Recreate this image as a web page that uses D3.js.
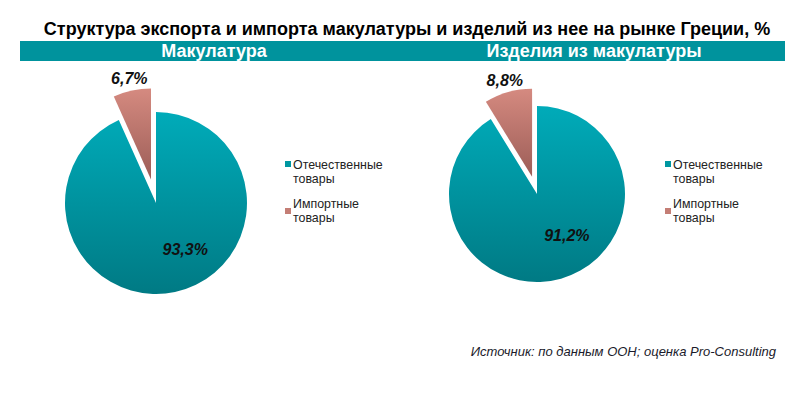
<!DOCTYPE html>
<html>
<head>
<meta charset="utf-8">
<script src="https://cdn.jsdelivr.net/npm/d3@7"></script>
<style>
  body { margin: 0; background: #fff; }
  svg { display: block; font-family: "Liberation Sans", Arial, sans-serif; }
</style>
</head>
<body>
<div id="chart"></div>
<script>
// data
const title = "Структура экспорта и импорта макулатуры и изделий из нее на рынке Греции, %";
const panels = ["Макулатура", "Изделия из макулатуры"];
const categories = ["Отечественные товары", "Импортные товары"];
const shares1 = [93.3, 6.7];
const shares2 = [91.2, 8.8];
const source = "Источник: по данным ООН; оценка Pro-Consulting";

const W = 804, H = 394;
const svg = d3.select("#chart").append("svg").attr("width", W).attr("height", H);

// gradients
const defs = svg.append("defs");
function grad(id, top, bottom){
    const g = defs.append("linearGradient").attr("id", id)
        .attr("x1", 0).attr("y1", 0).attr("x2", 0).attr("y2", 1);
    g.append("stop").attr("offset", "0%").attr("stop-color", top);
    g.append("stop").attr("offset", "100%").attr("stop-color", bottom);
}
grad("gTeal", "#00abb9", "#007a84");
grad("gPink", "#d58a80", "#9c5d57");

const fills = ["url(#gTeal)", "url(#gPink)"];
const legendColors = ["#0097a1", "#c47e75"];

// title + band
svg.append("text").attr("x", 407).attr("y", 35).attr("text-anchor", "middle")
    .attr("font-size", 18).attr("font-weight", "bold").attr("fill", "#000")
    .text(title);

svg.append("rect").attr("x", 20).attr("y", 41).attr("width", 765).attr("height", 20)
    .attr("fill", "#00939d");

const fmt = v => d3.format(".1f")(v).replace(".", ",") + "%";

function drawPie(values, panel, cx, cy, r, explode, bandX, legendX, importLabelR, mainLabelR){
    svg.append("text").attr("x", bandX).attr("y", 57).attr("text-anchor", "middle")
        .attr("font-size", 18).attr("font-weight", "bold").attr("fill", "#fff")
        .text(panel);

    const pie = d3.pie().sort(null).startAngle(0).endAngle(2 * Math.PI);
    const arcs = pie(values);
    const arc = d3.arc().innerRadius(0).outerRadius(r);
    const g = svg.append("g").attr("transform", `translate(${cx},${cy})`);

    arcs.forEach((a, i) => {
        const mid = (a.startAngle + a.endAngle) / 2;
        const off = i === 1 ? explode : 0;
        const dx = Math.sin(mid) * off, dy = -Math.cos(mid) * off;
        g.append("g").attr("transform", `translate(${dx},${dy})`)
            .append("path").attr("d", arc(a)).attr("fill", fills[i]);

        // import label sits above the pulled-out slice, main label inside
        const la = i === 1 ? mid : mid - 20 * Math.PI / 180;
        const lr = i === 1 ? importLabelR : mainLabelR;
        g.append("text").attr("x", Math.sin(la) * lr).attr("y", -Math.cos(la) * lr).attr("dy", "0.36em")
            .attr("text-anchor", "middle").attr("font-size", 16)
            .attr("font-weight", "bold").attr("font-style", "italic").attr("fill", "#111")
            .text(fmt(values[i]));
    });

    // legend
    const lg = svg.append("g").attr("transform", `translate(${legendX},0)`);
    const rows = [[164, 169, 183], [211, 208, 222]];
    categories.forEach((c, i) => {
        const words = c.split(" ");
        lg.append("rect").attr("x", 0).attr("y", rows[i][0] - 3).attr("width", 6).attr("height", 6)
            .attr("fill", legendColors[i]);
        lg.append("text").attr("x", 8).attr("y", rows[i][1]).attr("font-size", 12.4)
            .attr("fill", "#222").text(words[0]);
        lg.append("text").attr("x", 8).attr("y", rows[i][2]).attr("font-size", 12.4)
            .attr("fill", "#222").text(words[1]);
    });
}

drawPie(shares1, panels[0], 156, 203, 91, 24, 214, 285, 128, 55);
drawPie(shares2, panels[1], 537, 194, 88, 18, 594, 665, 118, 51);

svg.append("text").attr("x", 776).attr("y", 356).attr("text-anchor", "end")
    .attr("font-size", 13).attr("font-style", "italic").attr("fill", "#1a1a2a")
    .text(source);
</script>
</body>
</html>
